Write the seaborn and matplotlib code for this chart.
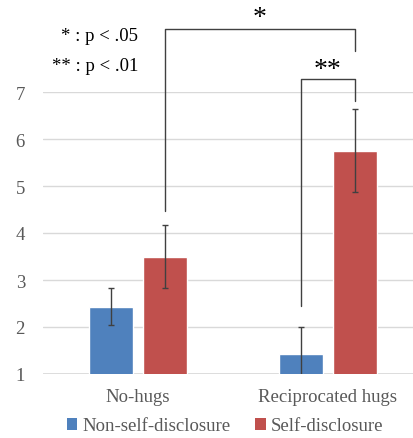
import matplotlib
matplotlib.use("Agg")
import matplotlib.pyplot as plt
from matplotlib.patches import Patch
import seaborn as sns
import pandas as pd
import numpy as np

categories = ["No-hugs", "Reciprocated hugs"]
groups = ["Non-self-disclosure", "Self-disclosure"]
non_disc = [2.43, 1.42]
non_disc_err = [0.39, 0.58]
self_disc = [3.50, 5.75]
self_disc_err = [0.68, 0.88]
yticks = [1, 2, 3, 4, 5, 6, 7]

colors = {"Non-self-disclosure": "#4F81BD", "Self-disclosure": "#C0504D"}

df = pd.DataFrame({
    "cat": categories * 2,
    "grp": [groups[0]] * 2 + [groups[1]] * 2,
    "val": non_disc + self_disc,
})
errs = {groups[0]: non_disc_err, groups[1]: self_disc_err}

sns.set_style("white")
plt.rcParams["font.family"] = ["Liberation Serif", "DejaVu Serif"]

fig = plt.figure(figsize=(4.13, 4.39), dpi=100)
ax = fig.add_axes([43 / 413, 1 - 375 / 439, 380 / 413, (375 - 93) / 439])

sns.barplot(data=df, x="cat", y="val", hue="grp", hue_order=groups,
            order=categories, palette=colors, width=0.57, gap=0.2,
            errorbar=None, ax=ax, legend=False, saturation=1)

centers = {}
for grp, cont in zip(groups, ax.containers):
    xs = [b.get_x() + b.get_width() / 2 for b in cont]
    centers[grp] = xs
    vals = [b.get_height() for b in cont]
    ax.errorbar(xs, vals, yerr=errs[grp], fmt="none", ecolor="#404040",
                elinewidth=1.0, capsize=2.5, capthick=1.0, zorder=3)

ax.set_xlim(-0.5, 1.5)
ax.set_ylim(1, 7)
ax.set_yticks(yticks)
ax.grid(axis="y", color="#D9D9D9", lw=1)
ax.set_axisbelow(True)
for s in ax.spines.values():
    s.set_visible(False)
ax.axhline(1, color="#D9D9D9", lw=1.2, zorder=0.5)
ax.tick_params(axis="both", length=0, labelsize=13.5, colors="#595959")
ax.tick_params(axis="y", pad=13)
ax.tick_params(axis="x", pad=10)
ax.set_xlabel("")
ax.set_ylabel("")

# significance brackets
lc = "#404040"
xl, xr = centers[groups[1]][0], centers[groups[1]][1]
ax.plot([xl, xl, xr, xr], [4.47, 8.34, 8.34, 7.87], color=lc, lw=1, clip_on=False)
ax.text((xl + xr) / 2, 8.58, "*", ha="center", va="center", fontsize=20, color="black")
xl2, xr2 = centers[groups[0]][1], centers[groups[1]][1]
ax.plot([xl2, xl2, xr2, xr2], [2.45, 7.28, 7.28, 6.81], color=lc, lw=1, clip_on=False)
ax.text((xl2 + xr2) / 2, 7.48, "**", ha="center", va="center", fontsize=20, color="black")

ax.text(0.0, 8.2, "* : p < .05", ha="right", va="center", fontsize=13.5, color="black")
ax.text(0.0, 7.57, "** : p < .01", ha="right", va="center", fontsize=13.5, color="black")

handles = [Patch(facecolor=colors[g], edgecolor="none") for g in groups]
fig.legend(handles, groups, loc="center", bbox_to_anchor=(225 / 413, 1 - 427 / 439),
           ncol=2, frameon=False, fontsize=13.5, handlelength=0.55, handleheight=0.55,
           handletextpad=0.27, columnspacing=1.33, labelcolor="#595959",
           borderaxespad=0, borderpad=0)

fig.savefig("out.png", dpi=100)
